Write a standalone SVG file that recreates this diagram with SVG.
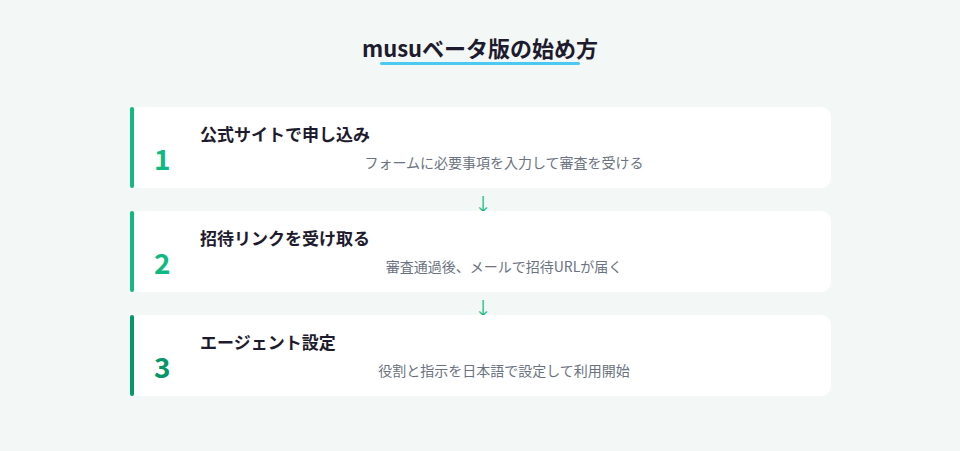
<svg xmlns="http://www.w3.org/2000/svg" width="960" height="451" viewBox="0 0 960 451">
<style>
.card{fill:#ffffff}
.bar{fill:#10b981}
.bar3{fill:#059669}
.num{font-family:"Noto Sans CJK JP","Noto Sans",sans-serif;font-weight:700;font-size:28px;fill:#10b981}
.num3{fill:#059669}
.ttl{font-family:"Noto Sans CJK JP",sans-serif;font-weight:700;font-size:17px;fill:#1e1b2e}
.desc{font-family:"Noto Sans CJK JP",sans-serif;font-size:14px;fill:#6b7280;text-anchor:middle}
.arr{font-family:"Noto Sans CJK JP",sans-serif;font-size:18px;fill:#10b981;text-anchor:middle}
</style>
<rect width="960" height="451" fill="#f3f8f6"/>
<g id="title">
<text x="480" y="57" text-anchor="middle" font-family="Noto Sans CJK JP, sans-serif" font-weight="700" font-size="22" fill="#1e1b2e">musuベータ版の始め方</text>
<rect x="380" y="62" width="200" height="3" rx="1.5" fill="#4cc9f0"/>
</g>
<g id="connectors">
<text class="arr" x="483" y="211">↓</text>
<text class="arr" x="483" y="315">↓</text>
</g>
<g id="step1">
<rect class="card" x="130" y="107" width="701" height="81" rx="10"/>
<rect class="bar" x="130" y="107" width="4" height="81" rx="2"/>
<text class="num" x="154" y="170">1</text>
<text class="ttl" x="200" y="141">公式サイトで申し込み</text>
<text class="desc" x="504" y="168">フォームに必要事項を入力して審査を受ける</text>
</g>
<g id="step2">
<rect class="card" x="130" y="211" width="701" height="81" rx="10"/>
<rect class="bar" x="130" y="211" width="4" height="81" rx="2"/>
<text class="num" x="154" y="274">2</text>
<text class="ttl" x="200" y="245">招待リンクを受け取る</text>
<text class="desc" x="504" y="272">審査通過後、メールで招待URLが届く</text>
</g>
<g id="step3">
<rect class="card" x="130" y="315" width="701" height="81" rx="10"/>
<rect class="bar3" x="130" y="315" width="4" height="81" rx="2"/>
<text class="num num3" x="154" y="378">3</text>
<text class="ttl" x="200" y="349">エージェント設定</text>
<text class="desc" x="504" y="376">役割と指示を日本語で設定して利用開始</text>
</g>
</svg>
